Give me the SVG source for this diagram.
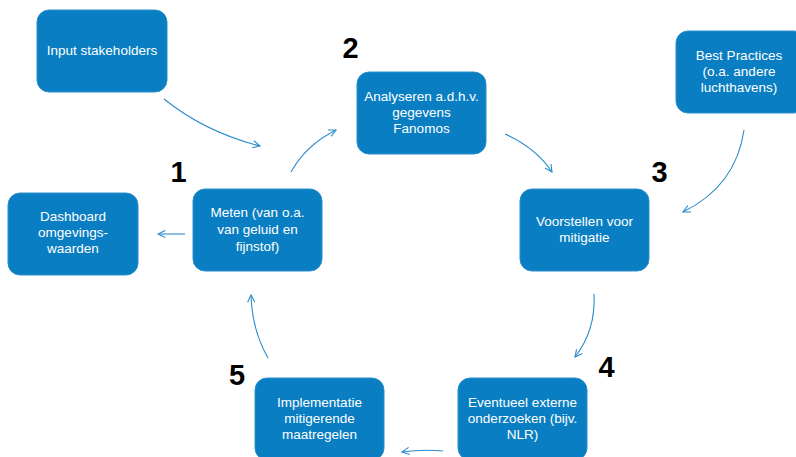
<svg xmlns="http://www.w3.org/2000/svg" width="796" height="457" viewBox="0 0 796 457">
<defs>
<style>
.box{fill:#0a7ec2;stroke:#2a8fcc;stroke-width:1}
.t{font-family:"Liberation Sans",Arial,sans-serif;font-size:13.5px;fill:#ffffff;text-anchor:middle}
.num{font-family:"Liberation Sans",Arial,sans-serif;font-size:29px;font-weight:bold;fill:#000000;text-anchor:middle}
.c{fill:none;stroke:#2b8bcb;stroke-width:1.1}
</style>
<marker id="ah" viewBox="0 0 10 10" refX="9" refY="5" markerWidth="9" markerHeight="9" markerUnits="userSpaceOnUse" orient="auto">
<path d="M1,1 L9,5 L1,9" fill="none" stroke="#2b8bcb" stroke-width="1.2"/>
</marker>
</defs>
<rect width="796" height="457" fill="#ffffff"/>
<g id="connectors">
<path class="c" d="M164,99 Q205,132 260,146" marker-end="url(#ah)"/>
<path class="c" d="M291,172 Q306,145 336,130" marker-end="url(#ah)"/>
<path class="c" d="M505,134 Q536,148 552,172" marker-end="url(#ah)"/>
<path class="c" d="M744,130 Q736,186 683,212" marker-end="url(#ah)"/>
<path class="c" d="M594,294 Q596,330 575,357" marker-end="url(#ah)"/>
<path class="c" d="M443,451 Q422,449 402,452" marker-end="url(#ah)"/>
<path class="c" d="M268,358 Q252,330 251,295" marker-end="url(#ah)"/>
<path class="c" d="M185,234 L158,234" marker-end="url(#ah)"/>
</g>
<g id="input">
<rect class="box" x="37" y="10" width="130" height="82" rx="12"/>
<text class="t" x="102" y="55">Input stakeholders</text>
</g>
<g id="analyseren">
<rect class="box" x="357" y="72" width="129" height="82" rx="12"/>
<text class="t" x="421.5" y="101">Analyseren a.d.h.v.</text>
<text class="t" x="421.5" y="117">gegevens</text>
<text class="t" x="421.5" y="133">Fanomos</text>
</g>
<g id="best">
<rect class="box" x="676" y="31" width="130" height="82" rx="12"/>
<text class="t" x="739" y="60">Best Practices</text>
<text class="t" x="739" y="76">(o.a. andere</text>
<text class="t" x="739" y="92">luchthavens)</text>
</g>
<g id="dashboard">
<rect class="box" x="8" y="193" width="130" height="82" rx="12"/>
<text class="t" x="73" y="221">Dashboard</text>
<text class="t" x="73" y="237">omgevings-</text>
<text class="t" x="73" y="253">waarden</text>
</g>
<g id="meten">
<rect class="box" x="193" y="189" width="129" height="82" rx="12"/>
<text class="t" x="257.5" y="217">Meten (van o.a.</text>
<text class="t" x="257.5" y="234">van geluid en</text>
<text class="t" x="257.5" y="251">fijnstof)</text>
</g>
<g id="voorstellen">
<rect class="box" x="520" y="189" width="129" height="82" rx="12"/>
<text class="t" x="584.5" y="226">Voorstellen voor</text>
<text class="t" x="584.5" y="242">mitigatie</text>
</g>
<g id="implementatie">
<rect class="box" x="255" y="378" width="129" height="82" rx="12"/>
<text class="t" x="319.5" y="407">Implementatie</text>
<text class="t" x="319.5" y="423">mitigerende</text>
<text class="t" x="319.5" y="439">maatregelen</text>
</g>
<g id="eventueel">
<rect class="box" x="458" y="378" width="129" height="82" rx="12"/>
<text class="t" x="522.5" y="407">Eventueel externe</text>
<text class="t" x="522.5" y="423">onderzoeken (bijv.</text>
<text class="t" x="522.5" y="439">NLR)</text>
</g>
<g id="numbers">
<text class="num" x="178.5" y="182">1</text>
<text class="num" x="350.5" y="58">2</text>
<text class="num" x="659.5" y="182">3</text>
<text class="num" x="606.5" y="377">4</text>
<text class="num" x="237" y="385">5</text>
</g>
</svg>
